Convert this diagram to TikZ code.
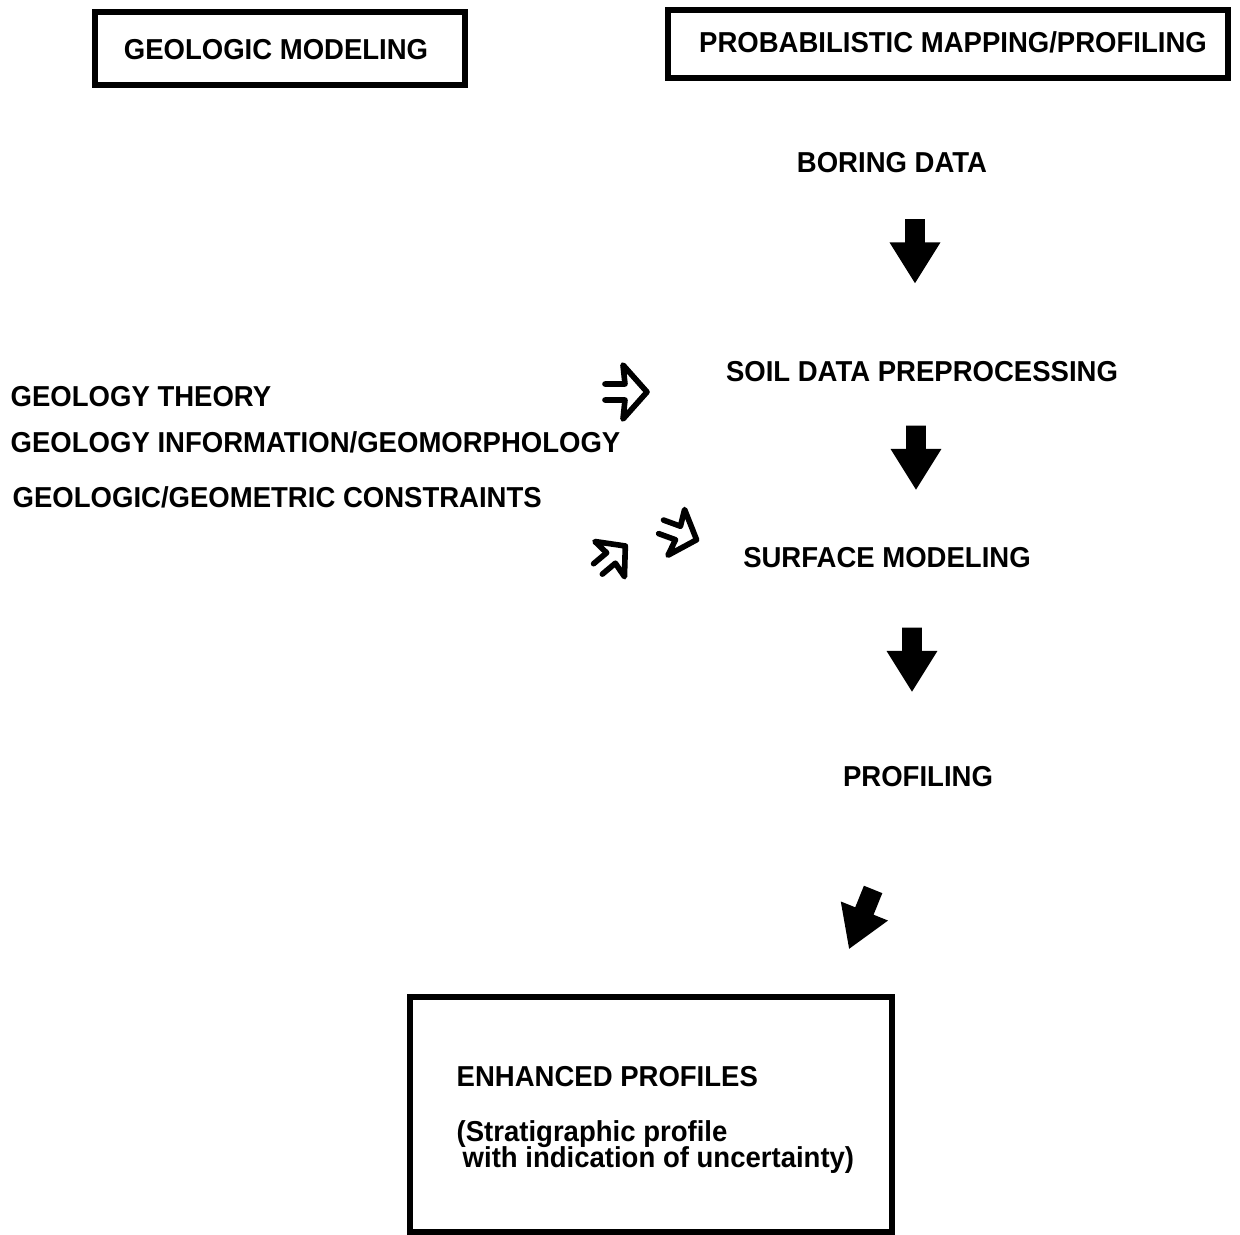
\documentclass[tikz,border=0pt]{standalone}
\usepackage{fontspec}
\setmainfont{Liberation Sans}[FakeStretch=0.955]
\usetikzlibrary{shapes.arrows}

\tikzset{
  heading/.style={draw, line width=1.5pt, inner sep=0pt},
  lbl/.style={font=\bfseries\fontsize{8.2}{10}\selectfont, inner sep=0pt},
  downarrow/.style={single arrow, fill=black, draw=black, rotate=-90,
    minimum height=0.62cm, minimum width=0.48cm, inner sep=0.085cm,
    single arrow head extend=0.15cm, single arrow tip angle=64},
  openarrow/.pic={
    \draw[line width=1.6pt, line cap=round, line join=round]
      (-0.20,0.08) -- (0,0.08) -- (-0.02,0.27) -- (0.22,0)
      -- (-0.02,-0.27) -- (0,-0.08) -- (-0.20,-0.08);
  }
}

\begin{document}
\begin{tikzpicture}[x=1cm, y=1cm]
    \useasboundingbox (0,0) rectangle (12.40,-12.35);

    % headings
    \draw(2.80,-0.485) node[heading, minimum width=3.70cm, minimum height=0.73cm] (geomod) {};
    \draw(2.76,-0.50) node[lbl] (geomodtxt) {GEOLOGIC MODELING};
    \draw(9.48,-0.44) node[heading, minimum width=5.60cm, minimum height=0.68cm] (probmap) {};
    \draw(9.53,-0.42) node[lbl] (probmaptxt) {PROBABILISTIC MAPPING/PROFILING};

    % right column
    \draw(8.92,-1.63) node[lbl] (boring) {BORING DATA};
    \draw(9.15,-2.435) node[downarrow] (arr1) {};
    \draw(9.22,-3.72) node[lbl] (soil) {SOIL DATA PREPROCESSING};
    \draw(9.16,-4.50) node[downarrow] (arr2) {};
    \draw(8.87,-5.58) node[lbl] (surface) {SURFACE MODELING};
    \draw(9.12,-6.52) node[downarrow] (arr3) {};
    \draw(9.18,-7.77) node[lbl] (profiling) {PROFILING};
    \draw(8.64,-9.12) node[downarrow, rotate=-22] (arr4) {};

    % left column
    \draw(0.10,-3.97) node[lbl, anchor=west] (theory) {GEOLOGY THEORY};
    \draw(0.10,-4.42) node[lbl, anchor=west] (info) {GEOLOGY INFORMATION/GEOMORPHOLOGY};
    \draw(0.12,-4.97) node[lbl, anchor=west] (constr) {GEOLOGIC/GEOMETRIC CONSTRAINTS};

    % open arrows
    \pic at (6.25,-3.92) {openarrow};
    \pic[rotate=-20, scale=0.9] at (6.78,-5.33) {openarrow};
    \pic[rotate=40, scale=0.85] at (6.11,-5.58) {openarrow};

    % result
    \draw(6.51,-11.145) node[heading, minimum width=4.82cm, minimum height=2.35cm] (result) {};
    \draw(4.56,-10.77) node[lbl, anchor=west] (enh) {ENHANCED PROFILES};
    \draw(4.56,-11.34) node[lbl, anchor=west] (strat) {(Stratigraphic profile};
    \draw(4.62,-11.60) node[lbl, anchor=west] (uncert) {with indication of uncertainty)};

\end{tikzpicture}
\end{document}
